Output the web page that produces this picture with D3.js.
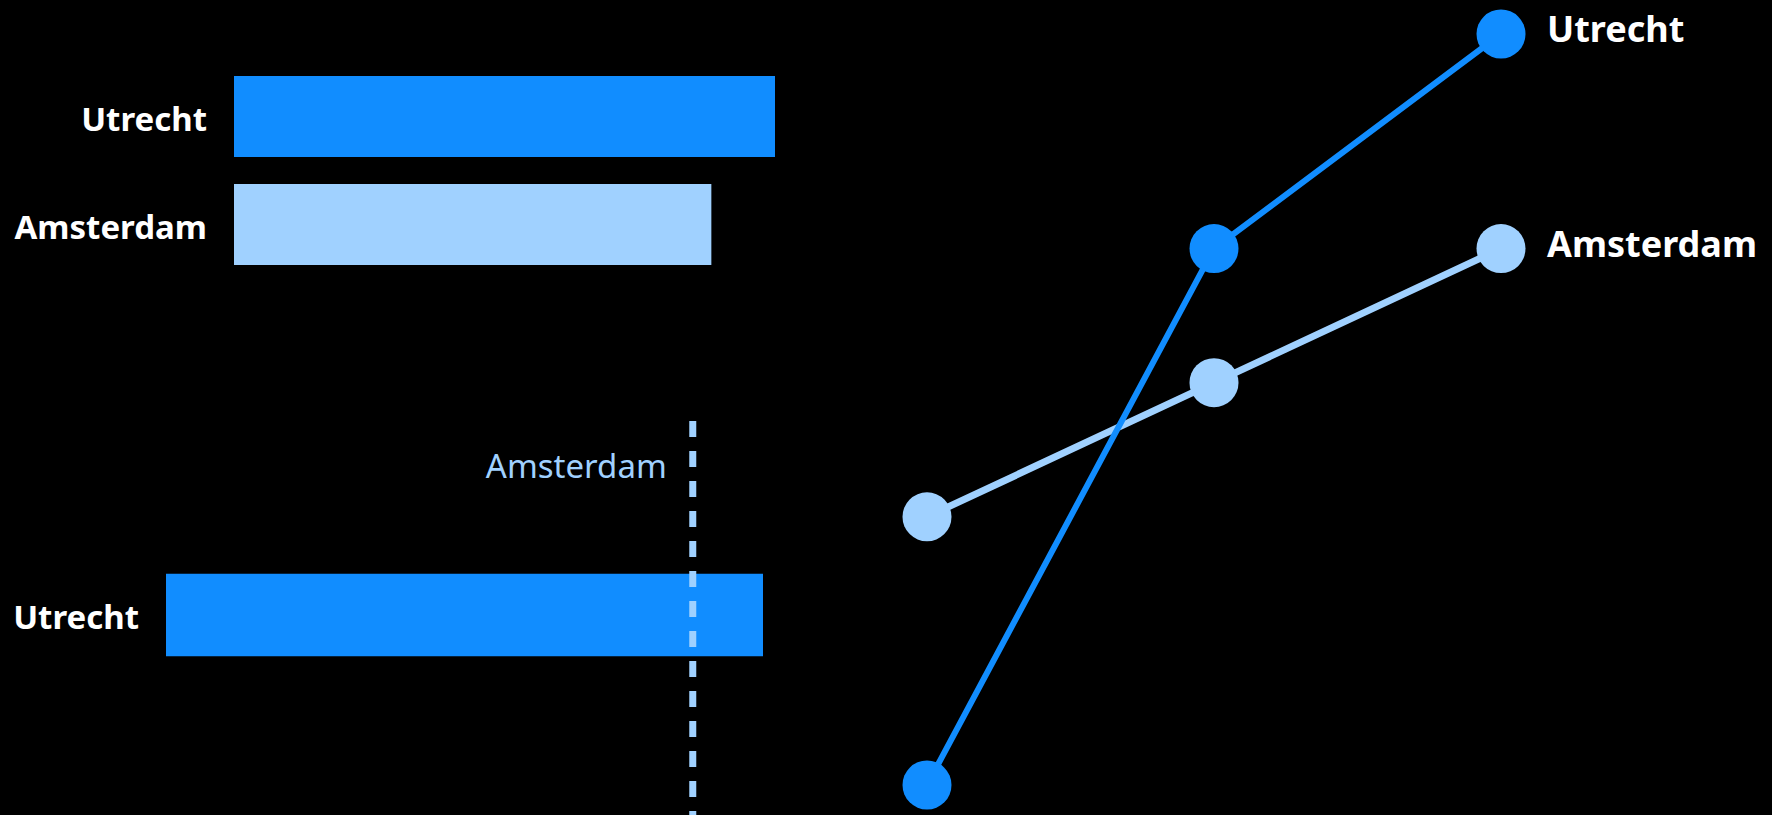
<!DOCTYPE html>
<html>
<head>
<meta charset="utf-8">
<script src="https://cdn.jsdelivr.net/npm/d3@7"></script>
<style>
  html, body { margin: 0; padding: 0; background: #000; }
  svg { display: block; }
</style>
</head>
<body>
<svg id="chart" width="1772" height="815"></svg>
<script>
// ---- data ----
const cities = ["Utrecht", "Amsterdam"];
const latestValues = [34, 30];            // top bar chart
const focusCity = ["Utrecht"];            // bottom bar chart
const focusValue = [34];
const referenceCity = "Amsterdam";
const referenceValue = 30;
const periods = ["P1", "P2", "P3"];
const utrechtSeries = [20, 30, 34];
const amsterdamSeries = [25, 27.5, 30];

const colors = { Utrecht: "#118DFF", Amsterdam: "#A0D1FF" };
const FONT = "'Noto Sans', 'Open Sans', sans-serif";

const svg = d3.select("#chart");
svg.append("rect").attr("width", 1772).attr("height", 815).attr("fill", "#000");

// ---- top bar chart ----
const xTop = d3.scaleLinear().domain([0, 34]).range([234, 775]);
const yTop = d3.scaleBand().domain(cities).range([62.5, 278.5]).paddingInner(0.25).paddingOuter(0.125);
const gTop = svg.append("g");
gTop.selectAll("rect").data(cities).join("rect")
  .attr("x", xTop(0))
  .attr("y", d => yTop(d))
  .attr("width", (d, i) => xTop(latestValues[i]) - xTop(0))
  .attr("height", yTop.bandwidth())
  .attr("fill", d => colors[d]);
gTop.selectAll("text").data(cities).join("text")
  .attr("x", xTop(0) - 27)
  .attr("y", d => yTop(d) + yTop.bandwidth() / 2 + 14)
  .attr("text-anchor", "end")
  .attr("font-family", FONT)
  .attr("font-weight", 700)
  .attr("font-size", 33)
  .attr("fill", "#fff")
  .text(d => d);

// ---- bottom bar chart with reference line ----
const xBot = d3.scaleLinear().domain([0, 34]).range([166, 763]);
const yBot = d3.scaleBand().domain(focusCity).range([560, 670]).paddingInner(0.25).paddingOuter(0.125);
const gBot = svg.append("g");
gBot.selectAll("rect").data(focusCity).join("rect")
  .attr("x", xBot(0))
  .attr("y", d => yBot(d))
  .attr("width", (d, i) => xBot(focusValue[i]) - xBot(0))
  .attr("height", yBot.bandwidth())
  .attr("fill", d => colors[d]);
gBot.selectAll("text.lbl").data(focusCity).join("text")
  .attr("class", "lbl")
  .attr("x", xBot(0) - 27)
  .attr("y", d => yBot(d) + yBot.bandwidth() / 2 + 14)
  .attr("text-anchor", "end")
  .attr("font-family", FONT)
  .attr("font-weight", 700)
  .attr("font-size", 33)
  .attr("fill", "#fff")
  .text(d => d);
gBot.append("line")
  .attr("x1", xBot(referenceValue)).attr("x2", xBot(referenceValue))
  .attr("y1", 421).attr("y2", 815)
  .attr("stroke", colors.Amsterdam)
  .attr("stroke-width", 7)
  .attr("stroke-dasharray", "16,14");
gBot.append("text")
  .attr("x", xBot(referenceValue) - 26)
  .attr("y", 478)
  .attr("text-anchor", "end")
  .attr("font-family", FONT)
  .attr("font-weight", 400)
  .attr("font-size", 33)
  .attr("fill", colors.Amsterdam)
  .text(referenceCity);

// ---- line chart ----
const xLine = d3.scalePoint().domain(periods).range([927, 1501]);
const yLine = d3.scaleLinear().domain([20, 34]).range([785, 34]);
const series = [
  { name: "Amsterdam", values: amsterdamSeries, width: 7 },
  { name: "Utrecht", values: utrechtSeries, width: 6 }
];
const line = d3.line()
  .x((d, i) => xLine(periods[i]))
  .y(d => yLine(d));
const gLine = svg.append("g");
series.forEach(s => {
  const g = gLine.append("g");
  g.append("path")
    .attr("d", line(s.values))
    .attr("fill", "none")
    .attr("stroke", colors[s.name])
    .attr("stroke-width", s.width);
  g.selectAll("circle").data(s.values).join("circle")
    .attr("cx", (d, i) => xLine(periods[i]))
    .attr("cy", d => yLine(d))
    .attr("r", 24.5)
    .attr("fill", colors[s.name]);
  const last = s.values[s.values.length - 1];
  g.append("text")
    .attr("x", xLine(periods[periods.length - 1]) + 46)
    .attr("y", yLine(last) + 8)
    .attr("font-family", FONT)
    .attr("font-weight", 700)
    .attr("font-size", 36)
    .attr("fill", "#fff")
    .text(s.name);
});
</script>
</body>
</html>
